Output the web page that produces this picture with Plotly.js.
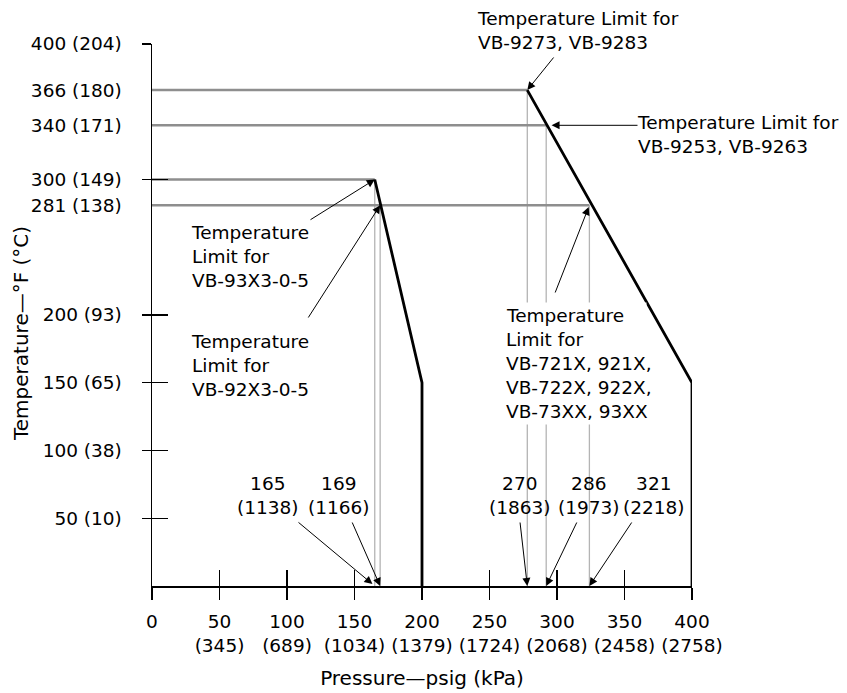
<!DOCTYPE html>
<html><head><meta charset="utf-8">
<script src="https://cdn.plot.ly/plotly-3.0.1.min.js"></script>
<style>html,body{margin:0;padding:0;background:#fff}</style>
</head><body><div id="chart" style="width:847px;height:693px"></div>
<script>
// Pressure axis ticks (psig) and kPa equivalents
const pressureTicks = [0, 50, 100, 150, 200, 250, 300, 350, 400];
const pressureKpa = [null, 345, 689, 1034, 1379, 1724, 2068, 2458, 2758];
const pressureCrossTicks = [50, 100, 150, 250, 300, 350];
// Temperature axis ticks (°F) and °C equivalents
const tempTicksF = [50, 100, 150, 200, 281, 300, 340, 366, 400];
const tempTicksC = [10, 38, 65, 93, 138, 149, 171, 180, 204];
const tempCrossTicks = [50, 100, 150, 200, 300, 400];

// Limit curves (pressure psig, temperature °F)
const curveLowP = [165, 200, 200];
const curveLowT = [300, 150, 0];
const curveHighP = [278, 400, 400];
const curveHighT = [366, 150, 0];

// Temperature limit reference lines
const limitTemps = [366, 340, 300, 281];
const limitTempEndP = [278, 293, 165, 324];
// Pressure limit reference lines (as drawn) and their labels
const limitPressures = [165, 169, 278, 292, 324];
const limitPressureTopT = [300, 281, 366, 340, 281];
const limitPsigLabels = [165, 169, 270, 286, 321];
const limitKpaLabels = [1138, 1166, 1863, 1973, 2218];

// Model notes
const noteHigh = ['Temperature Limit for', 'VB-9273, VB-9283'];
const noteMid = ['Temperature Limit for', 'VB-9253, VB-9263'];
const note93 = ['Temperature', 'Limit for', 'VB-93X3-0-5'];
const note92 = ['Temperature', 'Limit for', 'VB-92X3-0-5'];
const note72 = ['Temperature', 'Limit for', 'VB-721X, 921X,', 'VB-722X, 922X,', 'VB-73XX, 93XX'];

// ---- build traces ----
const hx = [], hy = [];
limitTemps.forEach((t, i) => { hx.push(0, limitTempEndP[i], null); hy.push(t, t, null); });
const vx = [], vy = [];
limitPressures.forEach((p, i) => { vx.push(p, p, null); vy.push(0, limitPressureTopT[i], null); });

const traces = [
  {x: vx, y: vy, mode: 'lines', line: {color: '#b4b4b4', width: 1.3}, hoverinfo: 'skip', showlegend: false},
  {x: hx, y: hy, mode: 'lines', line: {color: '#8e8e8e', width: 2.6}, hoverinfo: 'skip', showlegend: false},
  {x: curveLowP, y: curveLowT, mode: 'lines', line: {color: '#000', width: 2.8}, showlegend: false},
  {x: curveHighP, y: curveHighT, mode: 'lines', line: {color: '#000', width: 2.8}, showlegend: false},
  {x: [], y: [], xaxis: 'x2', yaxis: 'y2', mode: 'lines', showlegend: false, hoverinfo: 'skip'},
  {x: [], y: [], xaxis: 'x3', yaxis: 'y3', mode: 'lines', showlegend: false, hoverinfo: 'skip'}
];

// ---- layout helpers (reference pixel -> paper / data coords) ----
const X0 = 152, X1 = 692, Y0 = 586, Y1 = 44;
const paperX = px => (px - X0) / (X1 - X0);
const paperY = py => (Y0 - py) / (Y0 - Y1);
const dataP = px => (px - X0) / (X1 - X0) * 400;
const dataT = py => (Y0 - py) / (Y0 - Y1) * 400;

const FONT = {family: 'DejaVu Sans, Arial, sans-serif', size: 18.5, color: '#000'};
const TITLE_FONT = {family: 'DejaVu Sans, Arial, sans-serif', size: 20, color: '#000'};

const textNote = (px, py, text, opts) => Object.assign({
  xref: 'paper', yref: 'paper', x: paperX(px), y: paperY(py),
  xanchor: 'left', yanchor: 'middle', align: 'left', showarrow: false, text: text, font: FONT
}, opts || {});

const arrow = (hp, ht, tailP, tailT, standoff) => ({
  xref: 'x', yref: 'y', x: hp, y: ht, axref: 'x', ayref: 'y', ax: tailP, ay: tailT,
  text: '', showarrow: true, arrowhead: 2, arrowsize: 1.6, arrowwidth: 1, arrowcolor: '#000',
  standoff: standoff || 0, borderpad: 0, font: {size: 1}
});

const annotations = [
  textNote(475, 31, noteHigh.join('<br>')),
  textNote(635, 134, noteMid.join('<br>')),
  textNote(189, 256, note93.join('<br>')),
  textNote(189, 365, note92.join('<br>')),
  textNote(21, 334, 'Temperature—°F (°C)', {xanchor: 'center', textangle: -90, font: TITLE_FONT}),
  arrow(curveHighP[0], curveHighT[0], dataP(554), dataT(57)),
  arrow(limitTempEndP[1], limitTemps[1], dataP(638), limitTemps[1], 4),
  arrow(curveLowP[0], curveLowT[0], dataP(310), dataT(220)),
  arrow(limitPressures[1], limitPressureTopT[1], dataP(308), dataT(318)),
  arrow(limitPressures[4], limitPressureTopT[4], dataP(555), dataT(293), 2)
];

// note for VB-7xx models: one white-backed box per line so the grey guide lines break behind it
const note72Y = [315, 339, 363, 387, 411];
note72.forEach((line, i) => {
  annotations.push(textNote(503, note72Y[i], line, {bgcolor: '#fff', borderpad: 2, width: i < 2 ? 138 : undefined}));
});

const labelX = [268, 339, 520, 589, 654];
const arrowTailX = [298, 352, 520, 577, 632];
limitPsigLabels.forEach((v, i) => {
  annotations.push(textNote(labelX[i], 495.5, v + '<br>(' + limitKpaLabels[i] + ')', {xanchor: 'center', align: 'center'}));
  annotations.push(arrow(limitPressures[i], 0, dataP(arrowTailX[i]), dataT(522), i === 0 ? 3 : 0));
});

const layout = {
  width: 847, height: 693,
  margin: {l: 152, r: 155, t: 44, b: 107, pad: 0},
  paper_bgcolor: '#fff', plot_bgcolor: '#fff',
  font: FONT,
  showlegend: false,
  xaxis: {
    range: [0, 400], showgrid: false, zeroline: false,
    showline: true, linecolor: '#000', linewidth: 1.5,
    ticks: 'outside', ticklen: 12, tickwidth: 1.2, tickcolor: '#000',
    tickvals: pressureTicks,
    ticktext: pressureTicks.map((v, i) => pressureKpa[i] == null ? String(v) : v + '<br>(' + pressureKpa[i] + ')'),
    ticklabelstandoff: 6,
    title: {text: 'Pressure—psig (kPa)', standoff: 16, font: TITLE_FONT}
  },
  yaxis: {
    range: [0, 400], showgrid: false, zeroline: false,
    showline: true, linecolor: '#000', linewidth: 1.5,
    ticks: '', tickvals: tempTicksF,
    ticktext: tempTicksF.map((v, i) => v + ' (' + tempTicksC[i] + ')'),
    ticklabelstandoff: 25
  },
  xaxis2: {overlaying: 'x', anchor: 'y2', range: [0, 400], showgrid: false, zeroline: false, showline: false,
    ticks: 'inside', ticklen: 16, tickwidth: 1.2, tickcolor: '#000', tickvals: pressureCrossTicks, showticklabels: false},
  yaxis2: {overlaying: 'y', anchor: 'x2', range: [0, 400], showgrid: false, zeroline: false, showline: false,
    ticks: 'outside', ticklen: 9, tickwidth: 1.2, tickcolor: '#000', tickvals: tempCrossTicks, showticklabels: false},
  xaxis3: {overlaying: 'x', anchor: 'y3', range: [0, 400], visible: false},
  yaxis3: {overlaying: 'y', anchor: 'x3', range: [0, 400], showgrid: false, zeroline: false, showline: false,
    ticks: 'inside', ticklen: 16, tickwidth: 1.2, tickcolor: '#000', tickvals: tempCrossTicks, showticklabels: false},
  annotations: annotations
};

Plotly.newPlot('chart', traces, layout, {staticPlot: true, displayModeBar: false});
</script>
</body></html>
